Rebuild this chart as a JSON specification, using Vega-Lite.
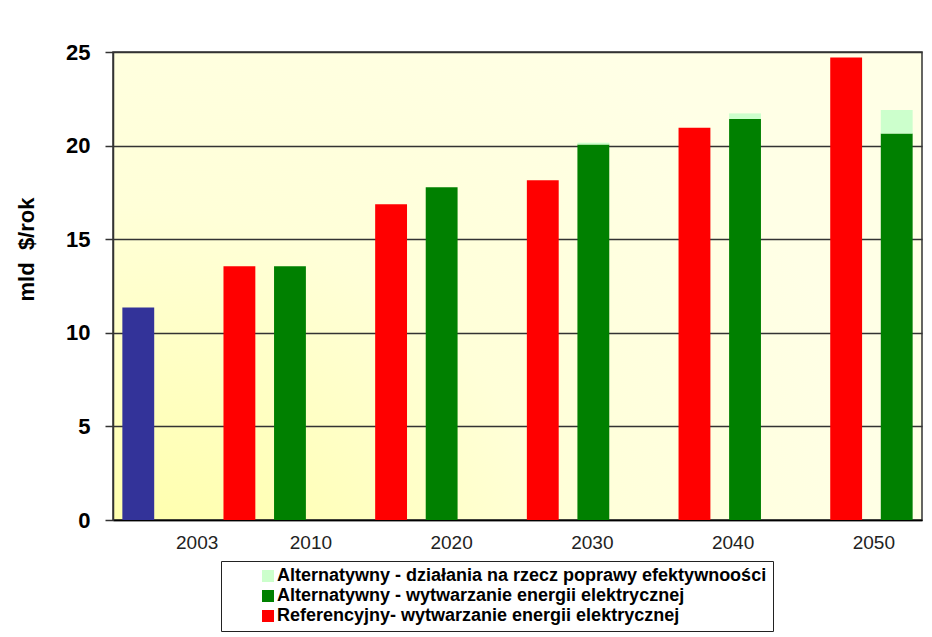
{
  "$schema": "https://vega.github.io/schema/vega-lite/v6.json",
  "width": 809,
  "height": 468,
  "autosize": {"type": "none"},
  "padding": {"left": 113, "top": 52, "right": 10, "bottom": 117},
  "background": "white",
  "config": {
    "font": "Liberation Sans",
    "view": {
      "stroke": "#333333",
      "strokeWidth": 1.5,
      "fill": {
        "gradient": "radial",
        "x1": 0, "y1": 1, "r1": 0,
        "x2": 0, "y2": 1, "r2": 1,
        "stops": [
          {"offset": 0, "color": "#FFFF99"},
          {"offset": 0.3, "color": "#FFFFB8"},
          {"offset": 0.6, "color": "#FFFFD8"},
          {"offset": 1, "color": "#FFFFE6"}
        ]
      }
    }
  },
  "data": {
    "values": [
      {"year": "2003", "scenario": "Stan obecny", "component": "Stan w 2003", "value": 11.35},
      {"year": "2010", "scenario": "Referencyjny", "component": "Referencyjny- wytwarzanie energii elektrycznej", "value": 13.55},
      {"year": "2010", "scenario": "Alternatywny", "component": "Alternatywny - wytwarzanie energii elektrycznej", "value": 13.55},
      {"year": "2020", "scenario": "Referencyjny", "component": "Referencyjny- wytwarzanie energii elektrycznej", "value": 16.87},
      {"year": "2020", "scenario": "Alternatywny", "component": "Alternatywny - wytwarzanie energii elektrycznej", "value": 17.78},
      {"year": "2030", "scenario": "Referencyjny", "component": "Referencyjny- wytwarzanie energii elektrycznej", "value": 18.15},
      {"year": "2030", "scenario": "Alternatywny", "component": "Alternatywny - wytwarzanie energii elektrycznej", "value": 20.06},
      {"year": "2030", "scenario": "Alternatywny", "component": "Alternatywny - działania na rzecz poprawy efektywnoości", "value": 0.09},
      {"year": "2040", "scenario": "Referencyjny", "component": "Referencyjny- wytwarzanie energii elektrycznej", "value": 20.96},
      {"year": "2040", "scenario": "Alternatywny", "component": "Alternatywny - wytwarzanie energii elektrycznej", "value": 21.42},
      {"year": "2040", "scenario": "Alternatywny", "component": "Alternatywny - działania na rzecz poprawy efektywnoości", "value": 0.3},
      {"year": "2050", "scenario": "Referencyjny", "component": "Referencyjny- wytwarzanie energii elektrycznej", "value": 24.7},
      {"year": "2050", "scenario": "Alternatywny", "component": "Alternatywny - wytwarzanie energii elektrycznej", "value": 20.65},
      {"year": "2050", "scenario": "Alternatywny", "component": "Alternatywny - działania na rzecz poprawy efektywnoości", "value": 1.25}
    ]
  },
  "layer": [
    {
      "transform": [{"calculate": "datum.year + ' ' + datum.scenario", "as": "slot"}],
      "mark": {"type": "bar"},
      "encoding": {
        "x": {
          "field": "slot",
          "type": "nominal",
          "scale": {
            "domain": ["2003 Stan obecny", "gap1", "2010 Referencyjny", "2010 Alternatywny", "gap2", "2020 Referencyjny", "2020 Alternatywny", "gap3", "2030 Referencyjny", "2030 Alternatywny", "gap4", "2040 Referencyjny", "2040 Alternatywny", "gap5", "2050 Referencyjny", "2050 Alternatywny"],
            "paddingInner": 0.37,
            "paddingOuter": 0.185
          },
          "axis": null
        },
        "y": {
          "field": "value",
          "type": "quantitative",
          "stack": "zero",
          "scale": {"domain": [0, 25], "nice": false},
          "axis": {
            "values": [0, 5, 10, 15, 20, 25],
            "title": "mld \u00a0$/rok",
            "titleFontSize": 22,
            "titleFontWeight": "bold",
            "titleColor": "black",
            "titlePadding": 27,
            "titleY": 197,
            "labelFontSize": 22,
            "labelFontWeight": "bold",
            "labelColor": "black",
            "labelPadding": 15,
            "tickSize": 8,
            "tickColor": "#333333",
            "tickWidth": 1.5,
            "domainColor": "#333333",
            "domainWidth": 1.5,
            "grid": true,
            "gridColor": "#333333",
            "gridWidth": 1.5,
            "gridOpacity": 1
          }
        },
        "color": {
          "field": "component",
          "type": "nominal",
          "scale": {
            "domain": ["Alternatywny - działania na rzecz poprawy efektywnoości", "Alternatywny - wytwarzanie energii elektrycznej", "Referencyjny- wytwarzanie energii elektrycznej", "Stan w 2003"],
            "range": ["#CCFFCC", "#008000", "#FF0000", "#333399"]
          },
          "legend": {
            "values": ["Alternatywny - działania na rzecz poprawy efektywnoości", "Alternatywny - wytwarzanie energii elektrycznej", "Referencyjny- wytwarzanie energii elektrycznej"],
            "title": null,
            "orient": "none",
            "legendX": 108,
            "legendY": 509,
            "direction": "vertical",
            "symbolType": "square",
            "symbolSize": 144,
            "symbolStrokeWidth": 0,
            "symbolOffset": 32,
            "labelFontSize": 18,
            "labelFontWeight": "bold",
            "labelColor": "black",
            "labelLimit": 800,
            "labelOffset": 0,
            "rowPadding": 2,
            "padding": 6,
            "fillColor": "white",
            "strokeColor": "#222222"
          }
        },
        "order": {"field": "component", "sort": "descending"}
      }
    },
    {
      "mark": {"type": "point", "opacity": 0},
      "encoding": {
        "x": {
          "field": "year",
          "type": "ordinal",
          "scale": {"type": "point", "padding": 0.374},
          "axis": {
            "title": null,
            "ticks": false,
            "grid": false,
            "domain": true,
            "domainColor": "black",
            "domainWidth": 1.5,
            "labelFontSize": 19,
            "labelColor": "#222222",
            "labelPadding": 13,
            "labelAngle": 0,
            "labelOffset": {"condition": {"test": "datum.value == '2003'", "value": 31}, "value": 4}
          }
        }
      }
    }
  ],
  "resolve": {"scale": {"x": "independent"}}
}
